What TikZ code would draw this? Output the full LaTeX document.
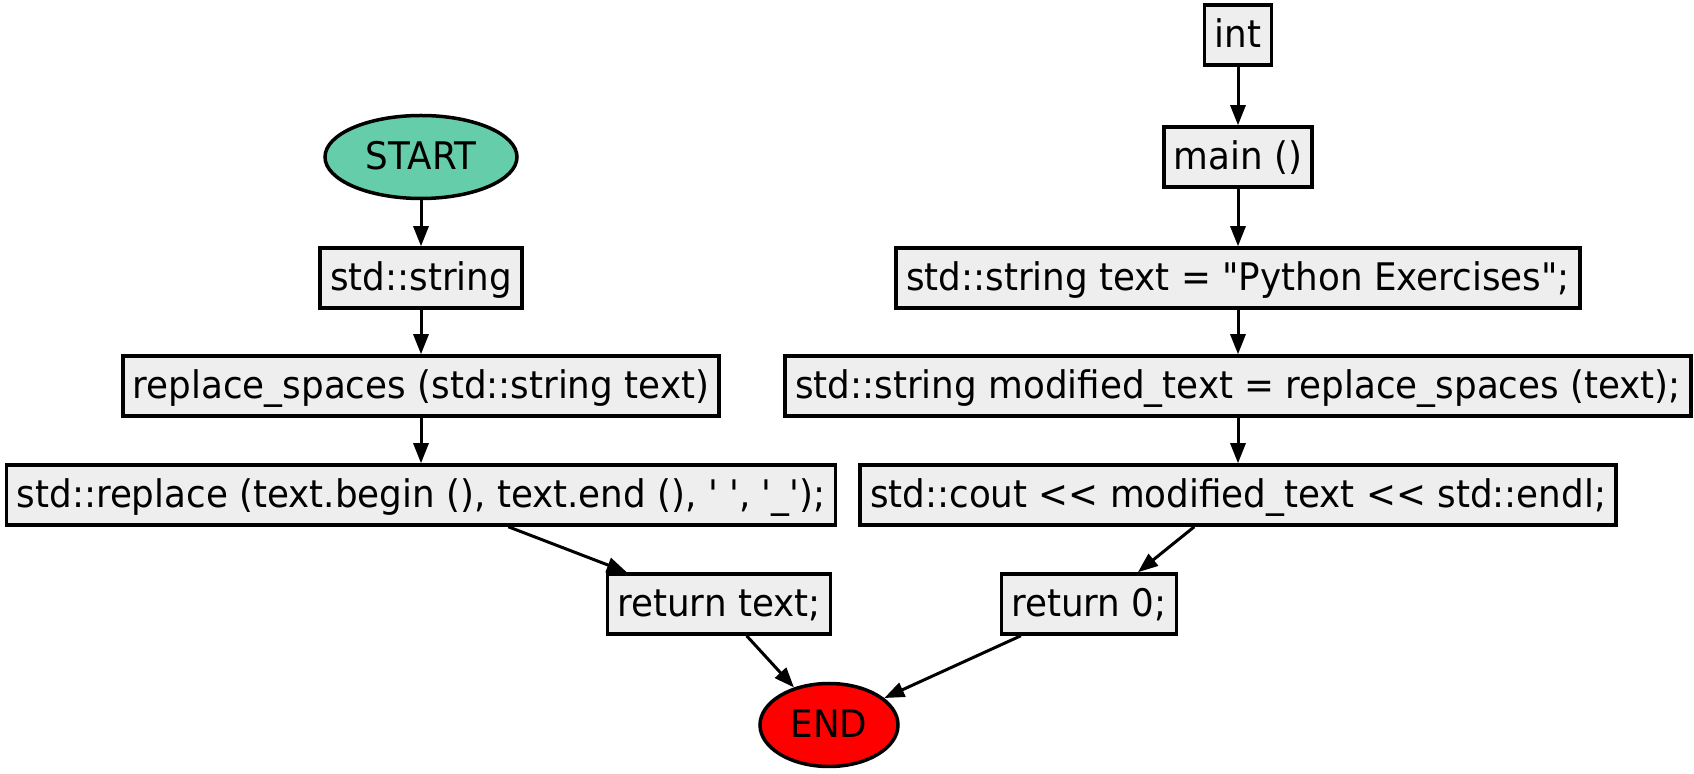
\documentclass[tikz,border=0pt]{standalone}
\usepackage{fontspec}
\newfontfamily\flowfont{DejaVu Sans}[FakeStretch=0.94]
\usetikzlibrary{shapes.geometric,arrows.meta}
\definecolor{startgreen}{HTML}{66CDAA}
\definecolor{boxgray}{HTML}{EEEEEE}

\begin{document}
\begin{tikzpicture}[x=0.5pt,y=-0.5pt,
    stmt/.style={draw=black,line width=1.75pt,fill=boxgray,inner xsep=5pt,inner ysep=0pt,
      minimum height=30pt,font=\flowfont\fontsize{19pt}{22pt}\selectfont,
      text height=16.5pt,text depth=4pt},
    term/.style={ellipse,draw=black,line width=1.75pt,inner sep=0pt,minimum height=41.5pt,
      font=\flowfont\fontsize{19pt}{22pt}\selectfont,text height=16.5pt,text depth=4pt},
    flow/.style={line width=1.5pt,-{Triangle[length=10pt,width=7.5pt]}}]
                          \useasboundingbox (0,0) rectangle (1694,774);

                          \coordinate (P1) at (421,157);
                          \coordinate (P2) at (421,278);
                          \coordinate (P3) at (421,386);
                          \coordinate (P4) at (421,495);
                          \coordinate (P5) at (719,604);
                          \coordinate (P6) at (829,725);
                          \coordinate (Q1) at (1238,35);
                          \coordinate (Q2) at (1238,157);
                          \coordinate (Q3) at (1238,278);
                          \coordinate (Q4) at (1238,386);
                          \coordinate (Q5) at (1238,495);
                          \coordinate (Q6) at (1089,604);

                          \node[term,fill=startgreen,minimum width=96pt] (start) at (P1) {START};
                          \node[stmt] (stdstr) at (P2) {std::string};
                          \node[stmt] (repsp) at (P3) {replace\_spaces (std::string text)};
                          \node[stmt] (repl) at (P4) {std::replace (text.begin (), text.end (), ' ', '\_');};
                          \node[stmt] (rettext) at (P5) {return text;};
                          \node[term,fill=red,minimum width=69pt] (finish) at (P6) {END};

                          \node[stmt] (int) at (Q1) {int};
                          \node[stmt] (main) at (Q2) {main ()};
                          \node[stmt] (textdef) at (Q3) {std::string text = "Python Exercises";};
                          \node[stmt] (modtext) at (Q4) {std::string modified\_text = replace\_spaces (text);};
                          \node[stmt] (cout) at (Q5) {std::cout << modified\_text << std::endl;};
                          \node[stmt] (retzero) at (Q6) {return 0;};

                          \draw[flow] (start.south) -- (stdstr.north);
                          \draw[flow] (stdstr.south) -- (repsp.north);
                          \draw[flow] (repsp.south) -- (repl.north);
                          \draw[flow] (repl.-20) -- (rettext.161);
                          \draw[flow] (rettext.-49) -- (finish.133);

                          \draw[flow] (int.south) -- (main.north);
                          \draw[flow] (main.south) -- (textdef.north);
                          \draw[flow] (textdef.south) -- (modtext.north);
                          \draw[flow] (modtext.south) -- (cout.north);
                          \draw[flow] (cout.-144) -- (retzero.33);
                          \draw[flow] (retzero.205) -- (finish.26);
                          \end{tikzpicture}
\end{document}
